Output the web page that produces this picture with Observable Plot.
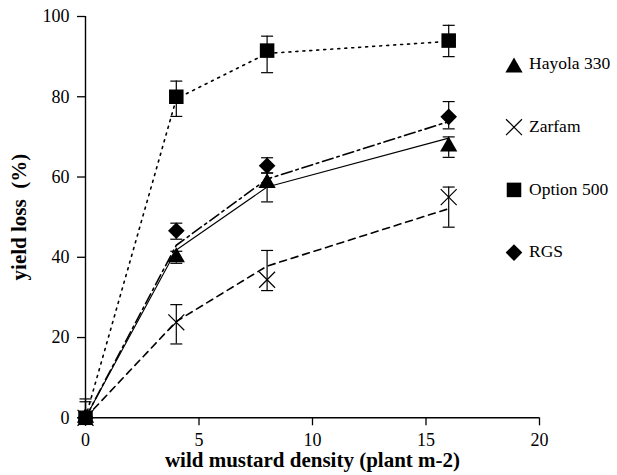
<!DOCTYPE html>
<html><head><meta charset="utf-8">
<script src="https://cdn.jsdelivr.net/npm/d3@7"></script>
<script src="https://cdn.jsdelivr.net/npm/@observablehq/plot@0.6"></script>
<style>
body{margin:0;background:#fff;font-family:"Liberation Serif",serif;}
#chart{position:relative;width:617px;height:475px;}
#chart svg, #chart text{font-family:"Liberation Serif",serif !important;}
#legend{position:absolute;left:0;top:0;pointer-events:none;}
</style></head><body><div id="chart"></div>
<script>
// ---- data ----
const density = [0, 4, 8, 16];
const varieties = ["Hayola 330", "Zarfam", "Option 500", "RGS"];

const hayolaMean = [0, 40.0, 58.5, 67.6];
const hayolaLow  = [0, 38.5, 53.8, 64.9];
const hayolaHigh = [4.0, 41.5, 61.0, 70.0];
const hayolaFit  = [0, 41.8, 57.5, 69.7];

const zarfamMean = [0, 23.8, 34.4, 55.0];
const zarfamLow  = [0, 18.4, 31.7, 47.5];
const zarfamHigh = [0, 28.2, 41.7, 57.5];
const zarfamFit  = [0, 24.0, 37.8, 52.1];

const optionMean = [0, 80.0, 91.5, 94.0];
const optionLow  = [0, 75.1, 86.0, 90.0];
const optionHigh = [4.7, 83.9, 95.1, 97.8];
const optionFit  = [0, 79.5, 90.8, 93.8];

const rgsMean = [0, 46.6, 62.8, 75.0];
const rgsLow  = [0, 44.5, 61.0, 72.0];
const rgsHigh = [0, 48.5, 64.8, 78.8];
const rgsFit  = [0, 43.0, 59.5, 73.8];

const xTicks = [0, 5, 10, 15, 20];
const yTicks = [0, 20, 40, 60, 80, 100];
const xLabel = "wild mustard density (plant m-2)";
const yLabel = "yield loss\u00a0 (%)";

// ---- build table ----
const means = [hayolaMean, zarfamMean, optionMean, rgsMean];
const lows = [hayolaLow, zarfamLow, optionLow, rgsLow];
const highs = [hayolaHigh, zarfamHigh, optionHigh, rgsHigh];
const fits = [hayolaFit, zarfamFit, optionFit, rgsFit];
const rows = [];
varieties.forEach((v, i) => density.forEach((d, j) => rows.push({
  variety: v, density: d, mean: means[i][j], lo: lows[i][j], hi: highs[i][j], fit: fits[i][j]
})));

// ---- styles ----
const FONT = "Liberation Serif";
const symbolNames = ["triangle", "times", "square", "diamond2"];
const d3Symbols = [d3.symbolTriangle, d3.symbolTimes, d3.symbolSquare, d3.symbolDiamond2];
const radii = [6.4, 7.3, 8.2, 7.5];
const dashes = [null, "7,5", "2,5", "11,4,2.5,4"];
const widths = [1.1, 1.6, 1.6, 1.6];
const capSymbol = {draw(ctx, size) { const r = Math.sqrt(size / Math.PI); ctx.moveTo(-r, 0); ctx.lineTo(r, 0); }};

const marks = [];
varieties.forEach((v, i) => {
  marks.push(Plot.line(rows.filter(d => d.variety === v), {
    x: "density", y: "fit", stroke: "black", strokeWidth: widths[i],
    strokeDasharray: dashes[i] || undefined
  }));
});
marks.push(Plot.ruleX(rows.filter(d => d.hi > d.lo), {x: "density", y1: "lo", y2: "hi", stroke: "black", strokeWidth: 1.2}));
marks.push(Plot.dot(rows.filter(d => d.hi > d.mean), {x: "density", y: "hi", symbol: capSymbol, r: 6, stroke: "black", strokeWidth: 1.2}));
marks.push(Plot.dot(rows.filter(d => d.lo < d.mean), {x: "density", y: "lo", symbol: capSymbol, r: 6, stroke: "black", strokeWidth: 1.2}));
[3, 0, 1, 2].forEach(i => {
  const v = varieties[i];
  const data = rows.filter(d => d.variety === v);
  if (symbolNames[i] === "times") {
    marks.push(Plot.dot(data, {x: "density", y: "mean", symbol: "times", r: radii[i], stroke: "black", strokeWidth: 1.2}));
  } else {
    marks.push(Plot.dot(data, {x: "density", y: "mean", symbol: symbolNames[i], r: radii[i], fill: "black", stroke: "none"}));
  }
});
marks.push(Plot.ruleY([0], {stroke: "black", strokeWidth: 1.4}));
marks.push(Plot.ruleX([0], {stroke: "black", strokeWidth: 1.4}));
marks.push(Plot.axisX({ticks: xTicks, tickSize: 8, tickPadding: 7, label: null, fontSize: 18, fontFamily: FONT, strokeWidth: 1.3}));
marks.push(Plot.axisY({ticks: yTicks, tickSize: 8, tickPadding: 8, label: null, fontSize: 18, fontFamily: FONT, strokeWidth: 1.3}));
marks.push(Plot.text([xLabel], {frameAnchor: "bottom", textAnchor: "middle", lineAnchor: "middle", dy: 42.5, text: d => d, fontWeight: "bold", fontSize: 21, fontFamily: FONT}));
marks.push(Plot.text([yLabel], {frameAnchor: "left", textAnchor: "middle", lineAnchor: "middle", dx: -66.7, rotate: -90, text: d => d, fontWeight: "bold", fontSize: 21, fontFamily: FONT}));

const chart = Plot.plot({
  width: 617, height: 475,
  marginLeft: 85, marginRight: 78, marginTop: 16, marginBottom: 57.7,
  x: {domain: [0, 20]},
  y: {domain: [0, 100]},
  style: {fontFamily: FONT, fontSize: "18px", color: "black", background: "white"},
  marks
});
const host = document.getElementById("chart");
host.appendChild(chart);

// ---- legend overlay ----
const leg = d3.create("svg").attr("id", "legend").attr("width", 617).attr("height", 475);
varieties.forEach((v, i) => {
  const base = 69.3 + i * 62.7;
  const cy = symbolNames[i] === "triangle" ? base - 1.8 : base - 4.8;
  const p = leg.append("path")
    .attr("d", d3.symbol(d3Symbols[i], Math.PI * radii[i] * radii[i])())
    .attr("transform", `translate(514,${cy})`);
  if (symbolNames[i] === "times") p.attr("fill", "none").attr("stroke", "black").attr("stroke-width", 1.2);
  else p.attr("fill", "black");
  leg.append("text").attr("x", 529).attr("y", base)
    .attr("font-family", FONT)
    .attr("font-size", 17.5).text(v);
});
host.appendChild(leg.node());
</script></body></html>
